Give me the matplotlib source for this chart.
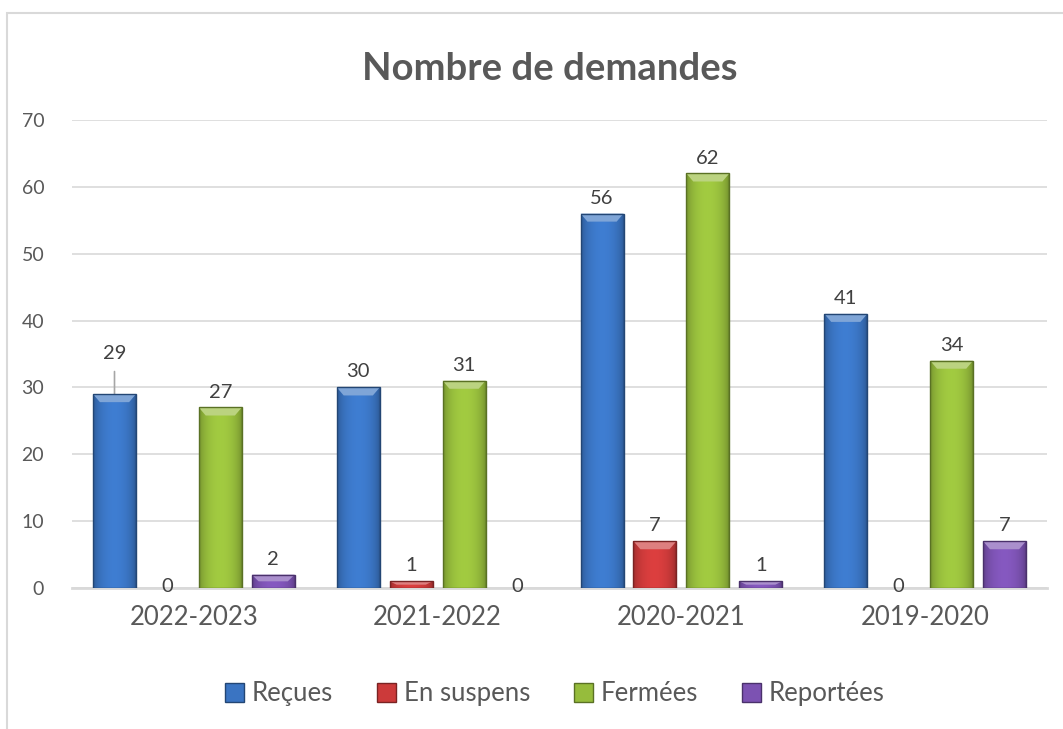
import numpy as np
import matplotlib.pyplot as plt
from matplotlib.colors import to_rgb
from matplotlib.patches import Rectangle, Polygon

# ---------------------------------------------------------------------
# DATA
# ---------------------------------------------------------------------
years = ["2022-2023", "2021-2022", "2020-2021", "2019-2020"]
series = ["Reçues", "En suspens", "Fermées", "Reportées"]
recues = [29, 30, 56, 41]
suspens = [0, 1, 7, 0]
fermees = [27, 31, 62, 34]
reportees = [2, 0, 1, 7]
colors = ["#3A74C2", "#CC3A3A", "#96BC3C", "#7C52B2"]

TEXT = "#595959"
LABEL = "#404040"
GRID = "#D9D9D9"

plt.rcParams["font.family"] = ["Lato", "DejaVu Sans"]


def shade(c, f):
    r = np.array(to_rgb(c))
    if f < 1:
        return tuple(r * f)
    return tuple(r + (1 - r) * (f - 1))


def bevel_bar(ax, patch, color):
    # horizontal gradient clipped to the bar, plus a lighter top bevel
    x0, w, h = patch.get_x(), patch.get_width(), patch.get_height()
    if h <= 0:
        return
    t = np.linspace(0, 1, 64)
    prof = 0.72 + 0.36 * np.sin(np.pi * t) ** 0.5
    base = np.array(to_rgb(color))
    img = np.clip(base[None, :] * prof[:, None], 0, 1)[None, :, :]
    im = ax.imshow(img, extent=(x0, x0 + w, 0, h), aspect="auto",
                   origin="lower", zorder=3, interpolation="bilinear")
    im.set_clip_path(patch)
    bh = min(1.2, h / 2)
    ins = w * 0.16
    top = Polygon([(x0, h), (x0 + w, h), (x0 + w - ins, h - bh),
                   (x0 + ins, h - bh)], closed=True,
                  facecolor=shade(color, 1.35), edgecolor="none", zorder=3.5)
    ax.add_patch(top)
    patch.set_facecolor("none")
    patch.set_edgecolor(shade(color, 0.6))
    patch.set_linewidth(1.0)
    patch.set_zorder(4)


fig = plt.figure(figsize=(10.63, 7.29), dpi=100)
ax = fig.add_axes([0.0677, 0.1934, 0.9173, 0.6420])

# chart frame
fig.patches.append(Rectangle((7 / 1063, -0.1), 1.2, 1.1 - 13 / 729,
                             transform=fig.transFigure, fill=False,
                             edgecolor=GRID, linewidth=1.5))

data = [recues, suspens, fermees, reportees]
x = np.arange(len(years))
step = 0.217
width = 0.176

for i, (vals, col, name) in enumerate(zip(data, colors, series)):
    pos = x + (i - 1.5) * step
    bars = ax.bar(pos, vals, width, color=col, label=name, zorder=3)
    for b, v in zip(bars, vals):
        bevel_bar(ax, b, col)
        cx = b.get_x() + b.get_width() / 2
        if v == 0:
            ax.text(cx, 0.3, "0", ha="center", va="center",
                    fontsize=14.5, color=LABEL)
        elif name == "Reçues" and v == 29:
            # label moved up, with a leader line as in the original
            ax.annotate(str(v), xy=(cx, v), xytext=(cx, v + 6.1),
                        ha="center", va="center", fontsize=14.5,
                        color=LABEL,
                        arrowprops=dict(arrowstyle="-", color="#A6A6A6",
                                        lw=1.2, shrinkA=5, shrinkB=0))
        else:
            ax.annotate(str(v), xy=(cx, v), xytext=(0, 5),
                        textcoords="offset points", ha="center",
                        va="bottom", fontsize=14.5, color=LABEL)

ax.set_xlim(-0.5, len(years) - 0.5)
ax.set_ylim(0, 70)
ax.set_yticks(range(0, 71, 10))
ax.set_xticks(x)
ax.set_xticklabels(years, fontsize=18.5, color=TEXT)
ax.tick_params(axis="y", labelsize=14, labelcolor=TEXT, length=0, pad=20)
ax.tick_params(axis="x", length=0, pad=12)
ax.grid(axis="y", color=GRID, linewidth=1.2, zorder=0)
for s in ["top", "right", "left"]:
    ax.spines[s].set_visible(False)
ax.spines["bottom"].set_color(GRID)
ax.spines["bottom"].set_linewidth(2)
ax.spines["bottom"].set_zorder(2)

fig.text(0.517, 0.905, "Nombre de demandes", ha="center", va="center",
         fontsize=27.5, fontweight="bold", color=TEXT)

leg = ax.legend(loc="upper center", bbox_to_anchor=(0.495, -0.15), ncol=4,
                frameon=False, fontsize=18.5, handlelength=0.75,
                handleheight=0.75, handletextpad=0.3, columnspacing=1.7,
                labelcolor=TEXT)
for h, col in zip(leg.legend_handles, colors):
    h.set_facecolor(col)
    h.set_edgecolor(shade(col, 0.6))

fig.savefig("out.png", dpi=100)
